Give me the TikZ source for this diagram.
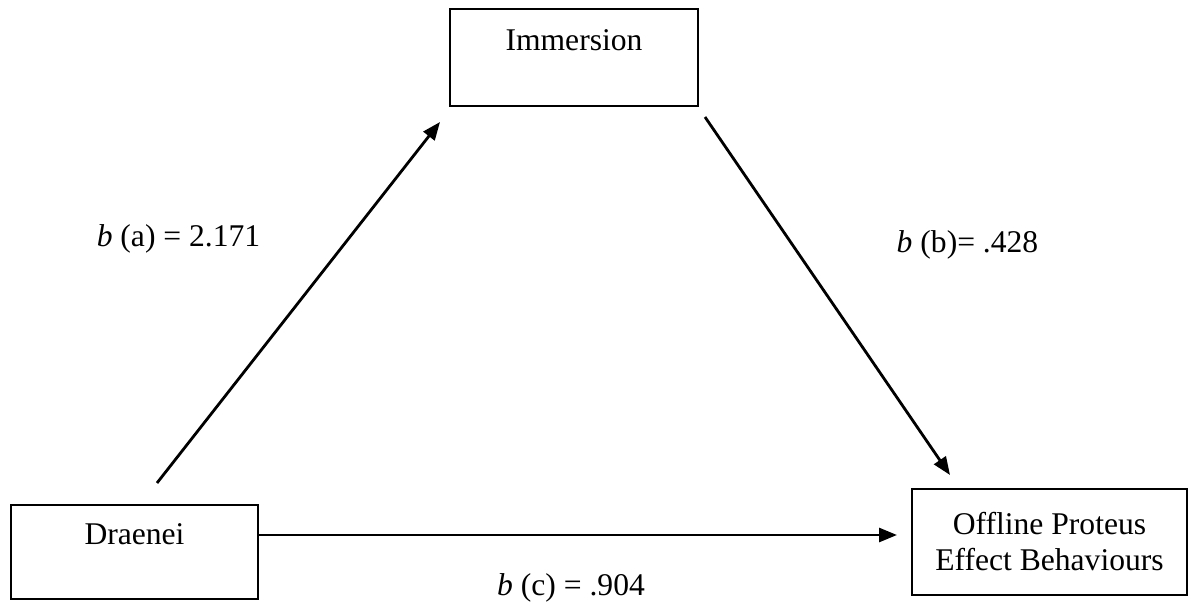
\documentclass[tikz,border=0pt]{standalone}
\usepackage{fontspec}
\setmainfont{Liberation Serif}
\usetikzlibrary{
	arrows.meta,
	positioning
}

\begin{document}
\begin{tikzpicture}[x=1pt, y=1pt,
	varbox/.style={draw, line width=1.8pt, inner xsep=0pt, inner ysep=0pt,
		font=\fontsize{31.6}{36}\selectfont},
	path/.style={line width=2.8pt, -{Triangle[length=18pt,width=14pt]}},
	coef/.style={anchor=base, font=\fontsize{31.6}{36}\selectfont}]
	\useasboundingbox (0,0) rectangle (1188,611);
	% variables
	\node[varbox, anchor=north, minimum width=247pt, text height=40pt, text depth=54pt] (dra) at (134.5,107) {Draenei};
	\node[varbox, anchor=north, minimum width=248pt, text height=42pt, text depth=55pt] (imm) at (574,603) {Immersion};
	\node[varbox, minimum width=275pt, minimum height=106pt, align=center] (off) at (1049.5,69) {Offline Proteus\\Effect Behaviours};
	% paths
	\coordinate (a0) at (157,128);
	\coordinate (a1) at (440,489);
	\coordinate (b0) at (705,494);
	\coordinate (b1) at (950,136);
	\coordinate (c1) at (897,76);
	\draw[path] (a0) -- (a1);
	\draw[path] (b0) -- (b1);
	\draw[path] (dra.east |- c1) -- (c1);
	% coefficients
	\node[coef] (la) at (178.5,364) {\textit{b} (a) = 2.171};
	\node[coef] (lb) at (967.5,358) {\textit{b} (b)= .428};
	\node[coef] (lc) at (571,16) {\textit{b} (c) = .904};
\end{tikzpicture}
\end{document}
